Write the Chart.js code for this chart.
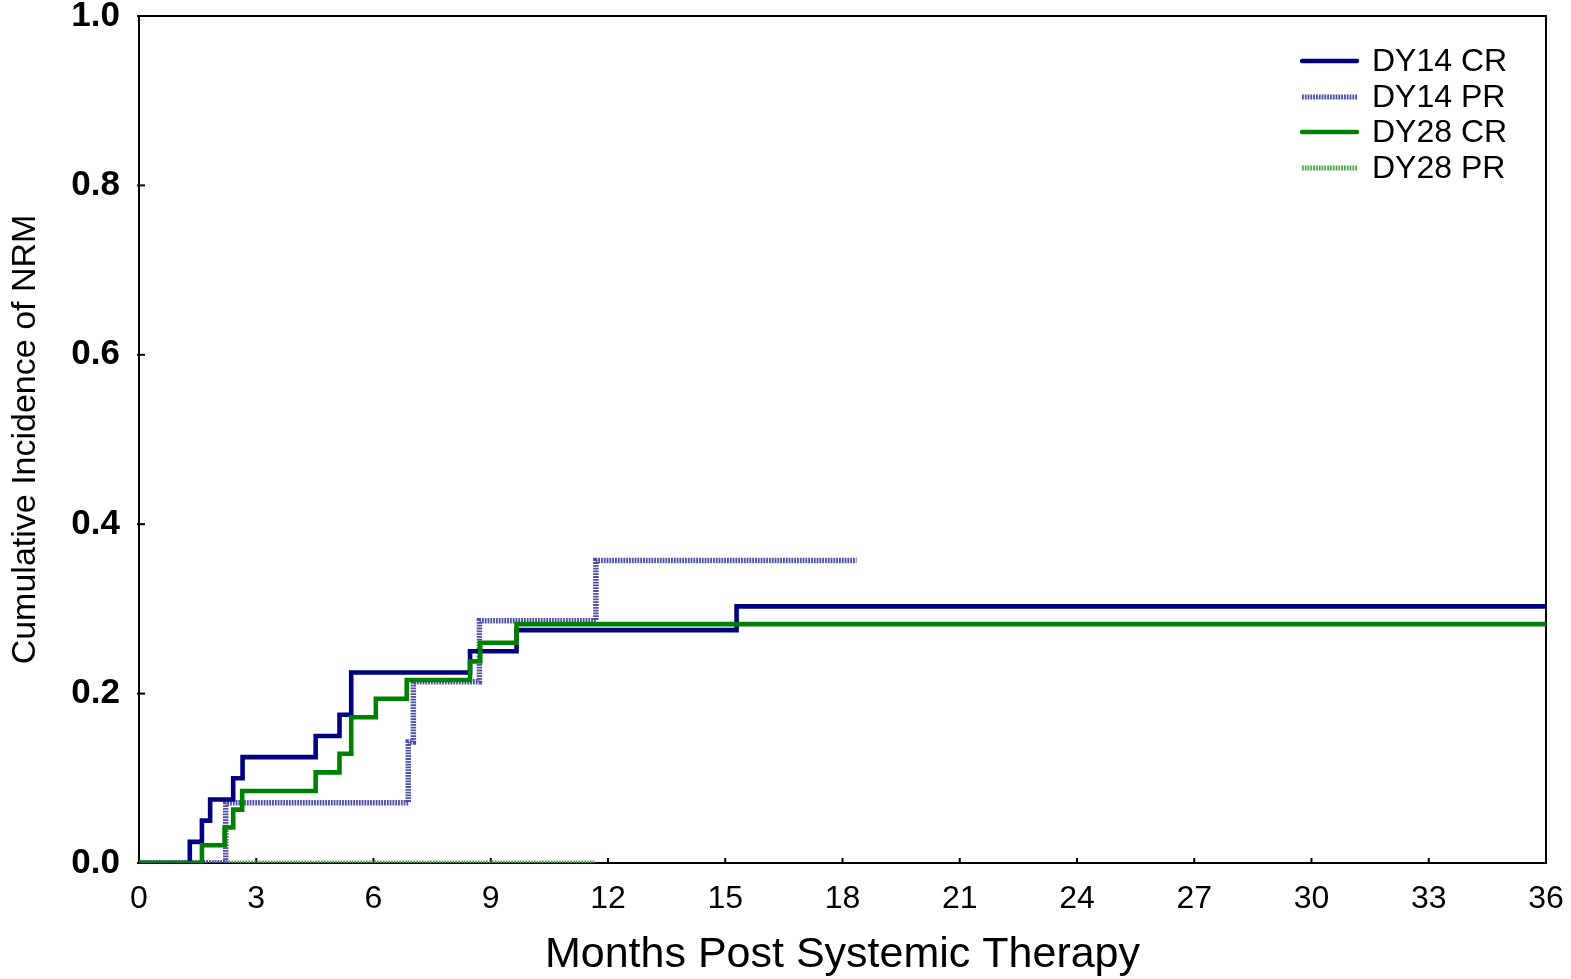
<!DOCTYPE html>
<html>
<head>
<meta charset="utf-8">
<script src="https://cdn.jsdelivr.net/npm/chart.js@4.4.1/dist/chart.umd.min.js"></script>
<style>
  html, body { margin: 0; padding: 0; background: #fff; }
  #wrap { width: 1571px; height: 979px; }
</style>
</head>
<body>
<div id="wrap"><canvas id="c" width="1571" height="979"></canvas></div>
<script>
// ---- Data ----
const xTickValues = [0, 3, 6, 9, 12, 15, 18, 21, 24, 27, 30, 33, 36];
const yTickValues = [0.0, 0.2, 0.4, 0.6, 0.8, 1.0];

const seriesLabels = ['DY14 CR', 'DY14 PR', 'DY28 CR', 'DY28 PR'];

const dy14crTimes  = [0, 1.30, 1.61, 1.82, 2.41, 2.65, 4.52, 5.13, 5.43, 8.47, 9.66, 15.29, 36];
const dy14crValues = [0, 0.025, 0.05, 0.075, 0.10, 0.125, 0.15, 0.175, 0.225, 0.25, 0.275, 0.303, 0.303];

const dy14prTimes  = [0, 2.22, 6.89, 7.02, 8.71, 11.69, 18.36];
const dy14prValues = [0, 0.071, 0.143, 0.214, 0.286, 0.357, 0.357];

const dy28crTimes  = [0, 1.61, 2.19, 2.41, 2.64, 4.52, 5.13, 5.43, 6.06, 6.85, 8.47, 8.73, 9.66, 36];
const dy28crValues = [0, 0.021, 0.042, 0.063, 0.085, 0.107, 0.129, 0.172, 0.194, 0.216, 0.238, 0.26, 0.282, 0.282];

const dy28prTimes  = [0, 11.67];
const dy28prValues = [0, 0];

function pts(t, v) { return t.map((x, i) => ({ x: x, y: v[i] })); }

const FONT = "'Liberation Sans', Arial, sans-serif";

const styles = [
  { color: '#000080', dash: [], width: 4.6, order: 1 },
  { color: '#4e4ea8', dash: [1.8, 1], width: 5.5, order: 2 },
  { color: '#008000', dash: [], width: 4.6, order: 0 },
  { color: '#4ea84e', dash: [1.8, 1], width: 5, order: 3 }
];
const seriesData = [
  pts(dy14crTimes, dy14crValues),
  pts(dy14prTimes, dy14prValues),
  pts(dy28crTimes, dy28crValues),
  pts(dy28prTimes, dy28prValues)
];

const datasets = seriesLabels.map((lab, i) => ({
  label: lab,
  data: seriesData[i],
  borderColor: styles[i].color,
  borderDash: styles[i].dash,
  borderWidth: styles[i].width,
  stepped: 'before',
  pointRadius: 0,
  fill: false,
  order: styles[i].order,
  borderCapStyle: 'butt',
  borderJoinStyle: 'miter'
}));

// frame and inward tick marks (under the data), legend (on top)
const framePlugin = {
  id: 'frame',
  beforeDatasetsDraw(chart) {
    const { ctx, chartArea: a, scales } = chart;
    ctx.save();
    ctx.strokeStyle = '#000';
    ctx.lineWidth = 2;
    ctx.setLineDash([]);
    ctx.strokeRect(a.left, a.top, a.right - a.left, a.bottom - a.top);
    xTickValues.forEach(v => {
      const x = scales.x.getPixelForValue(v);
      ctx.beginPath(); ctx.moveTo(x, a.bottom + 1); ctx.lineTo(x, a.bottom - 5); ctx.stroke();
    });
    yTickValues.forEach(v => {
      const y = scales.y.getPixelForValue(v);
      ctx.beginPath(); ctx.moveTo(a.left - 2, y); ctx.lineTo(a.left + 6, y); ctx.stroke();
    });
    ctx.restore();
  },
  afterDraw(chart) {
    const { ctx } = chart;
    ctx.save();
    const ly = [61, 97, 132, 168];
    chart.data.datasets.forEach((ds, i) => {
      ctx.strokeStyle = ds.borderColor;
      ctx.lineWidth = ds.borderDash && ds.borderDash.length ? 5 : 4.4;
      ctx.setLineDash(ds.borderDash || []);
      ctx.lineCap = ds.borderDash && ds.borderDash.length ? 'butt' : 'round';
      ctx.beginPath(); ctx.moveTo(1302, ly[i]); ctx.lineTo(1357, ly[i]); ctx.stroke();
      ctx.setLineDash([]);
      ctx.fillStyle = '#000';
      ctx.font = '32px ' + FONT;
      ctx.textBaseline = 'middle';
      ctx.textAlign = 'left';
      ctx.fillText(ds.label, 1372, ly[i] + 1);
    });
    ctx.restore();
  }
};

new Chart(document.getElementById('c'), {
  type: 'line',
  data: { datasets: datasets },
  options: {
    responsive: false,
    animation: false,
    devicePixelRatio: 1,
    layout: { autoPadding: false, padding: { left: 0, right: 25, top: 16, bottom: 0 } },
    plugins: { legend: { display: false }, tooltip: { enabled: false } },
    scales: {
      x: {
        type: 'linear',
        min: 0, max: 36,
        afterBuildTicks(scale) { scale.ticks = xTickValues.map(v => ({ value: v })); },
        afterFit(scale) {
          scale.height = 116;
          scale.paddingLeft = 0; scale.paddingRight = 0; scale.paddingTop = 0; scale.paddingBottom = 0;
        },
        grid: { display: false, drawTicks: false },
        border: { display: true, color: '#000', width: 2 },
        ticks: {
          color: '#000',
          font: { family: FONT, size: 32 },
          padding: 17,
          maxRotation: 0,
          autoSkip: false,
          callback: v => String(v)
        },
        title: {
          display: true,
          text: 'Months Post Systemic Therapy',
          color: '#000',
          font: { family: FONT, size: 43, lineHeight: 1.1 },
          padding: { top: 0, bottom: 0 }
        }
      },
      y: {
        min: 0, max: 1,
        afterBuildTicks(scale) { scale.ticks = yTickValues.map(v => ({ value: v })); },
        afterFit(scale) {
          scale.width = 139;
          scale.paddingLeft = 0; scale.paddingRight = 0; scale.paddingTop = 0; scale.paddingBottom = 0;
        },
        grid: { display: false, drawTicks: false },
        border: { display: true, color: '#000', width: 2 },
        ticks: {
          color: '#000',
          font: { family: FONT, size: 35, weight: 'bold' },
          padding: 19,
          autoSkip: false,
          callback: v => v.toFixed(1)
        },
        title: {
          display: true,
          text: 'Cumulative Incidence of NRM',
          color: '#000',
          font: { family: FONT, size: 34 },
          padding: { top: 5, bottom: 0 }
        }
      }
    }
  },
  plugins: [framePlugin]
});
</script>
</body>
</html>
